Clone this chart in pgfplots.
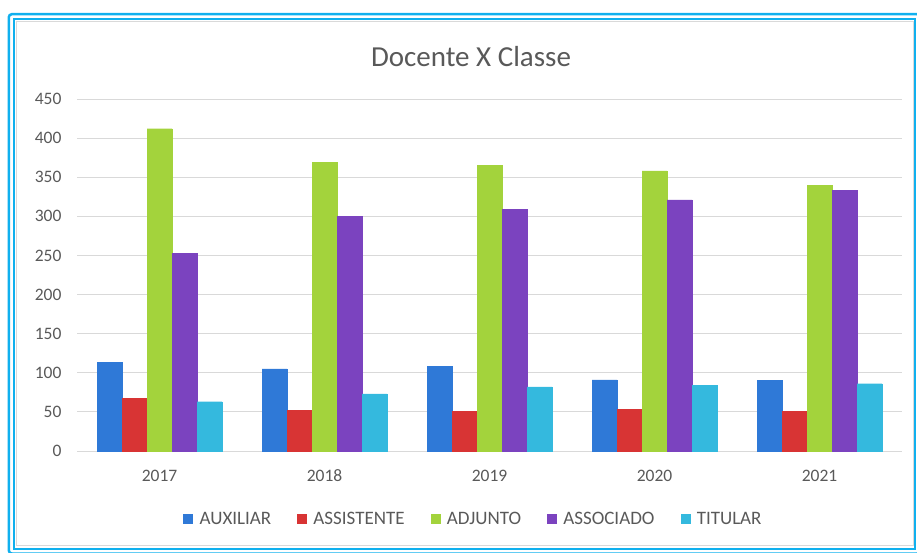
\documentclass[border=0pt]{standalone}
\usepackage{fontspec}
\setmainfont{Carlito}
\usepackage{pgfplots}
\pgfplotsset{compat=1.18}

\definecolor{cAux}{HTML}{2F79D7}
\definecolor{cAss}{HTML}{D83434}
\definecolor{cAdj}{HTML}{A3D33C}
\definecolor{cAsc}{HTML}{7B43BF}
\definecolor{cTit}{HTML}{34B9DE}
\definecolor{txt}{HTML}{595959}
\definecolor{gridc}{HTML}{D9D9D9}
\definecolor{frame}{HTML}{10B0EE}

\pgfplotsset{
  sq/.style={legend image code/.code={
      \fill[##1] (0pt,-4.5pt) rectangle (9pt,4.5pt);
      \path[draw=none, fill=none] (0pt,0pt) -- (14pt,0pt);}},
}

\begin{document}
\begin{tikzpicture}[x=1pt,y=1pt]
  \useasboundingbox (0,0) rectangle (917,552);
  % frame of the chart
  \draw[frame, line width=2.5pt, rounded corners=3pt] (8.8,-1.5) rectangle (920,537.8);
  \draw[frame, line width=2pt] (13.7,3.5) rectangle (915,533.2);
  \draw[gridc, line width=0.8pt] (16.7,6.3) rectangle (913,530.3);

  \node[anchor=base, text=txt, font=\fontsize{29}{34}\selectfont] at (471,485) {Docente X Classe};

  \begin{axis}[
      at={(77pt,101pt)}, anchor=south west,
      scale only axis, width=825pt, height=352pt,
      ybar=0pt, bar width=25pt,
      xmin=-0.5, xmax=4.5,
      ymin=0, ymax=450,
      xtick=data,
      xticklabels={2017,2018,2019,2020,2021},
      ytick={0,50,...,450},
      major tick length=0pt,
      axis line style={draw=none},
      ymajorgrids, grid style={gridc, line width=1pt},
      /pgf/number format/assume math mode=true,
      tick label style={text=txt, font=\fontsize{17.5}{21}\selectfont},
      yticklabel style={xshift=-12pt},
      xticklabel style={yshift=-15pt, text height=12pt, text depth=0pt},
      legend columns=5,
      legend style={at={(0.4806,-0.193)}, anchor=center, draw=none,
                    fill=none, text=txt,
                    font=\fontsize{19}{22}\selectfont,
                    /tikz/every even column/.append style={column sep=24pt}},
    ]
    \addplot[fill=cAux, draw=cAux, sq] coordinates {(0,113) (1,105) (2,108) (3,91) (4,90)};
    \addplot[fill=cAss, draw=cAss, sq] coordinates {(0,67) (1,52) (2,51) (3,53) (4,51)};
    \addplot[fill=cAdj, draw=cAdj, sq] coordinates {(0,412) (1,369) (2,365) (3,358) (4,340)};
    \addplot[fill=cAsc, draw=cAsc, sq] coordinates {(0,253) (1,300) (2,309) (3,321) (4,333)};
    \addplot[fill=cTit, draw=cTit, sq] coordinates {(0,63) (1,73) (2,82) (3,84) (4,86)};
    \legend{AUXILIAR, ASSISTENTE, ADJUNTO, ASSOCIADO, TITULAR}
  \end{axis}
\end{tikzpicture}
\end{document}
